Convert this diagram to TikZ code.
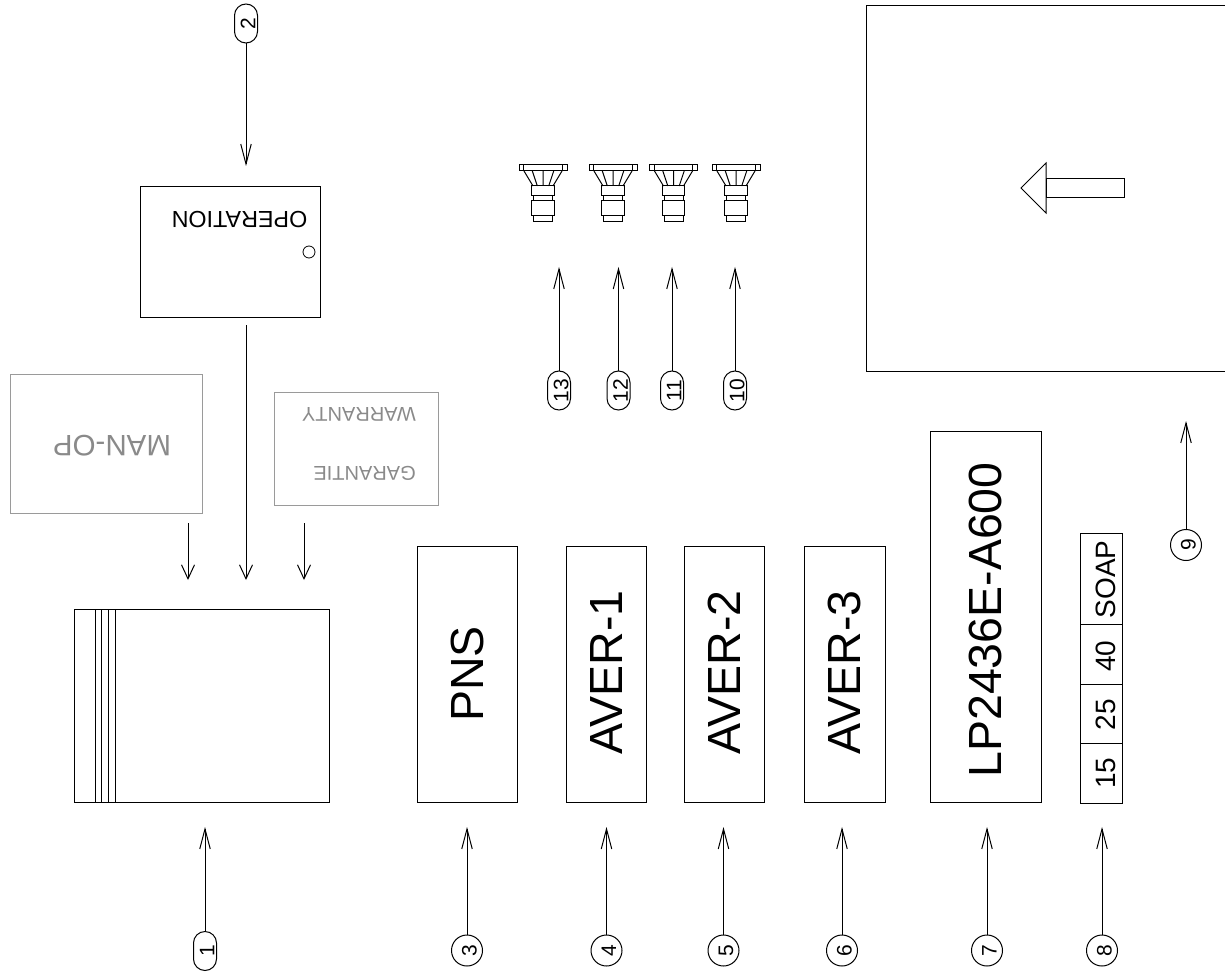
\documentclass[tikz,border=0pt]{standalone}
\usepackage{fontspec}
\setmainfont{Liberation Sans}
\usetikzlibrary{arrows.meta,shapes.misc}
\definecolor{pale}{HTML}{9A9A9A}
\definecolor{paletext}{HTML}{8A8A8A}
\tikzset{
  x=1pt,y=-1pt,
  ln/.style={line width=1pt,draw=black},
  lead/.style={line width=1pt,-{Straight Barb[length=20pt,width=10.5pt]}},
  drop/.style={line width=1pt,-{Straight Barb[length=14pt,width=13pt]}},
  ball/.style={circle,draw,line width=1pt,minimum size=31pt,inner sep=0pt,text height=19pt,text depth=0pt,font=\fontsize{21}{21}\selectfont,rotate=90},
  pill/.style={rounded rectangle,draw,line width=1pt,minimum width=39pt,minimum height=23pt,inner sep=0pt,text height=18.5pt,text depth=0pt,font=\fontsize{21}{21}\selectfont,rotate=90},
  boxlabel/.style={rotate=90,inner sep=0pt,font=\fontsize{46.5}{46.5}\selectfont},
  celllabel/.style={rotate=90,inner sep=0pt,font=\fontsize{28}{28}\selectfont},
}
\newcommand{\nozzle}[2]{%
\begin{scope}[shift={(#1,#2)}]
 \draw[ln] (-24,0) rectangle (24,6);
 \draw[ln] (-19.3,0) -- (-19.3,6) (19.3,0) -- (19.3,6);
 \draw[ln] (-19,6) -- (-10,21) (19,6) -- (10,21) (-10.7,6) -- (-5.7,21) (10.7,6) -- (5.7,21) (0,6) -- (0,21);
 \draw[ln] (-11.3,21) rectangle (11.3,31);
 \draw[ln] (-9.5,31) rectangle (9.5,36);
 \draw[ln] (-11.3,36) rectangle (11.3,51);
 \draw[ln] (-9.5,51) rectangle (9.5,57);
\end{scope}}
\begin{document}
\begin{tikzpicture}
\useasboundingbox (0,0) rectangle (1225,973);
% big box and arrow
\draw[ln] (1226,5.5) -- (866.5,5.5) -- (866.5,371) -- (1226,371);
\draw[ln] (1046,163) -- (1021,188) -- (1046,213) -- cycle;
\draw[ln] (1046,178.5) rectangle (1124,198);
% operation
\node[draw,ln,minimum width=180pt,minimum height=131pt,inner sep=0pt] (op) at (230,252) {};
\node[rotate=180,inner sep=0pt,font=\fontsize{23.3}{23.3}\selectfont] (optext) at (239.5,220) {OPERATION};
\node[circle,draw,line width=0.8pt,minimum size=12pt,inner sep=0pt] (opdot) at (309,252) {};
% man-op, warranty
\node[draw=pale,line width=1pt,minimum width=192pt,minimum height=139pt,inner sep=0pt] (man) at (106.5,443.5) {};
\node[rotate=180,inner sep=0pt,text=paletext,font=\fontsize{29.5}{29.5}\selectfont] (mantext) at (112,446) {MAN-OP};
\node[draw=pale,line width=1pt,minimum width=164pt,minimum height=113pt,inner sep=0pt] (war) at (356.6,448.5) {};
\node[rotate=180,inner sep=0pt,text=paletext,font=\fontsize{20}{20}\selectfont,anchor=west] (wartext) at (416,414) {WARRANTY};
\node[rotate=180,inner sep=0pt,text=paletext,font=\fontsize{20}{20}\selectfont,anchor=west] (gartext) at (416,473.5) {GARANTIE};
% bag
\node[draw,ln,minimum width=255pt,minimum height=193pt,inner sep=0pt] (bag) at (201.5,705.5) {};
\draw[ln] (95,609) -- (95,802) (101,609) -- (101,802) (108,609) -- (108,802) (115,609) -- (115,802);
% boxes
\node[draw,ln,minimum width=100pt,minimum height=256pt,inner sep=0pt] (pns) at (467,674) {};
\node[boxlabel] at (467,674) {PNS};
\node[draw,ln,minimum width=80pt,minimum height=256pt,inner sep=0pt] (av1) at (606,674) {};
\node[boxlabel] at (606,672.5) {AVER-1};
\node[draw,ln,minimum width=80pt,minimum height=256pt,inner sep=0pt] (av2) at (724,674) {};
\node[boxlabel] at (724,672.5) {AVER-2};
\node[draw,ln,minimum width=81pt,minimum height=256pt,inner sep=0pt] (av3) at (844.5,674) {};
\node[boxlabel] at (844.5,672.5) {AVER-3};
\node[draw,ln,minimum width=111pt,minimum height=371pt,inner sep=0pt] (lp) at (985.5,616.5) {};
\node[boxlabel] at (985.5,620) {LP2436E-A600};
% soap strip
\node[draw,ln,minimum width=42pt,minimum height=91pt,inner sep=0pt] (soap) at (1101,578.5) {};
\node[draw,ln,minimum width=42pt,minimum height=60pt,inner sep=0pt] (c40) at (1101,654) {};
\node[draw,ln,minimum width=42pt,minimum height=59pt,inner sep=0pt] (c25) at (1101,713.5) {};
\node[draw,ln,minimum width=42pt,minimum height=60pt,inner sep=0pt] (c15) at (1101,773) {};
\node[celllabel] at (1105.5,579.5) {SOAP};
\node[celllabel] at (1105.5,656) {40};
\node[celllabel] at (1105.5,714.5) {25};
\node[celllabel] at (1105.5,773) {15};
% nozzles
\nozzle{543}{165}
\nozzle{613}{165}
\nozzle{673.5}{165}
\nozzle{736}{165}
% bubbles
\node[pill] (b1) at (205,951) {1};
\node[pill] (b2) at (246,23.5) {2};
\node[ball] (b3) at (467,950.5) {3};
\node[ball] (b4) at (606.5,950.5) {4};
\node[ball] (b5) at (723.5,950.5) {5};
\node[ball] (b6) at (842,950.5) {6};
\node[ball] (b7) at (987,950.5) {7};
\node[ball] (b8) at (1102,950.5) {8};
\node[ball] (b9) at (1186,545) {9};
\node[pill] (b10) at (735,390.5) {10};
\node[pill] (b11) at (672,390.5) {11};
\node[pill] (b12) at (618.5,390.5) {12};
\node[pill] (b13) at (559,390.5) {13};
% end points
\coordinate (e1) at (205,827);
\coordinate (e3) at (467,827);
\coordinate (e4) at (606.5,827);
\coordinate (e5) at (723.5,827);
\coordinate (e6) at (842,827);
\coordinate (e7) at (987,827);
\coordinate (e8) at (1102,827);
\coordinate (e9) at (1186,421);
\coordinate (e10) at (735,267);
\coordinate (e11) at (672,267);
\coordinate (e12) at (618.5,267);
\coordinate (e13) at (559,267);
\coordinate (e2) at (246,166);
\coordinate (s0) at (246,325);
\coordinate (t0) at (246,580);
\coordinate (s1) at (188,523);
\coordinate (t1) at (188,580);
\coordinate (s2) at (304,523);
\coordinate (t2) at (304,580);
\foreach \n in {1,3,4,5,6,7,8,9,10,11,12,13} \draw[lead] (b\n.east) -- (e\n);
\draw[lead] (b2.west) -- (e2);
\draw[drop] (s0) -- (t0);
\draw[drop] (s1) -- (t1);
\draw[drop] (s2) -- (t2);
\end{tikzpicture}
\end{document}
